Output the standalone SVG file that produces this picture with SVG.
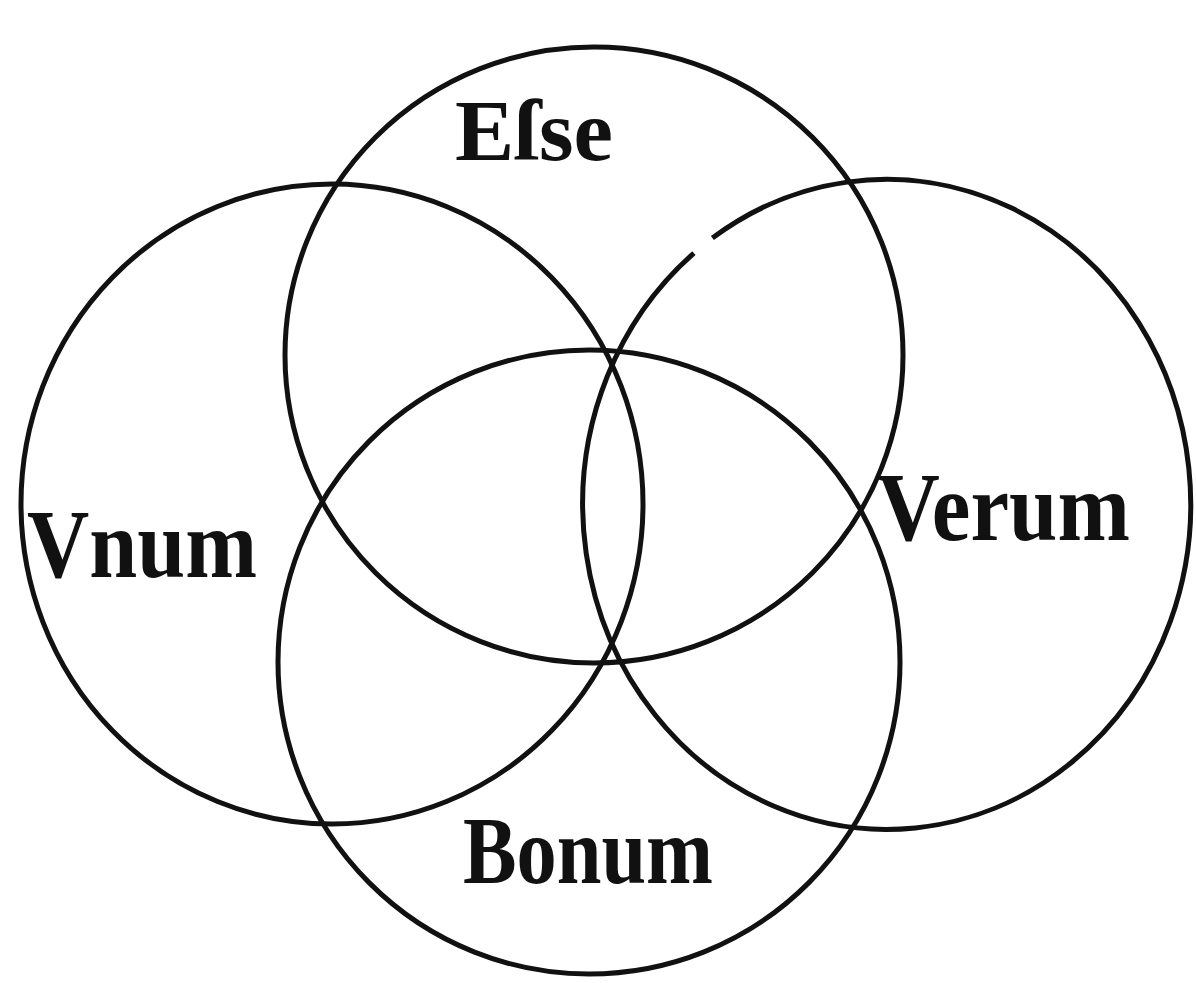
<svg xmlns="http://www.w3.org/2000/svg" width="1196" height="983" viewBox="0 0 1196 983">
<style>
.c{fill:none;stroke:#111;stroke-width:5}
.t{font-family:"Liberation Serif","DejaVu Serif",serif;font-weight:bold;fill:#111}
</style>
<rect width="1196" height="983" fill="#fff"/>
<g id="connectors">
<ellipse id="esse-circle" class="c" cx="594" cy="355" rx="309" ry="308"/>
<ellipse id="vnum-circle" class="c" cx="332" cy="504" rx="311" ry="320"/>
<path id="verum-circle" class="c" d="M 712.4 238.1 A 304 325 0 1 1 693.9 253.1"/>
<ellipse id="bonum-circle" class="c" cx="589" cy="662" rx="311" ry="312"/>
</g>
<g id="esse"><text class="t" x="455" y="160" font-size="86" textLength="158" lengthAdjust="spacingAndGlyphs">Eſse</text></g>
<g id="vnum"><text class="t" x="27" y="577" font-size="98" textLength="230" lengthAdjust="spacingAndGlyphs">Vnum</text></g>
<g id="verum"><text class="t" x="877" y="540" font-size="98" textLength="253" lengthAdjust="spacingAndGlyphs">Verum</text></g>
<g id="bonum"><text class="t" x="463" y="883" font-size="95" textLength="250" lengthAdjust="spacingAndGlyphs">Bonum</text></g>
</svg>
